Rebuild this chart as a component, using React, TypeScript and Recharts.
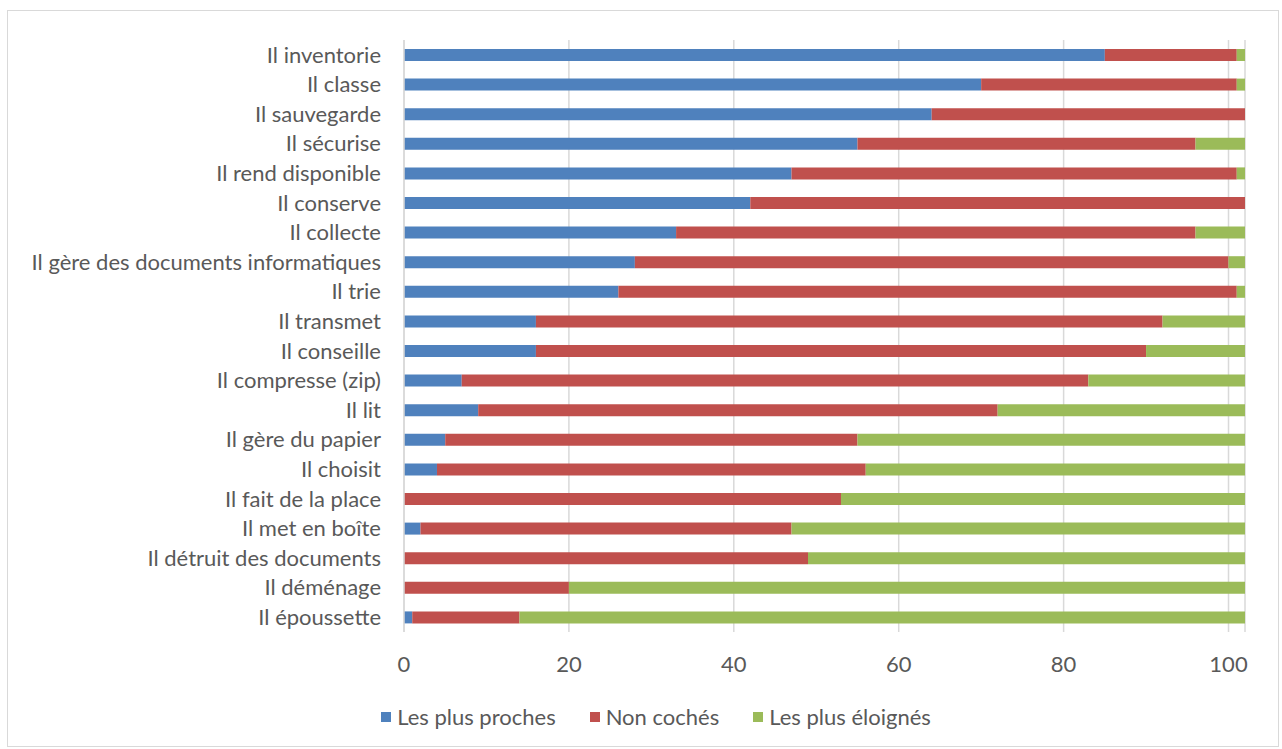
import React from 'react';
import { BarChart, Bar, XAxis, YAxis, CartesianGrid } from 'recharts';

const categories = [
  'Il inventorie',
  'Il classe',
  'Il sauvegarde',
  'Il sécurise',
  'Il rend disponible',
  'Il conserve',
  'Il collecte',
  'Il gère des documents informatiques',
  'Il trie',
  'Il transmet',
  'Il conseille',
  'Il compresse (zip)',
  'Il lit',
  'Il gère du papier',
  'Il choisit',
  'Il fait de la place',
  'Il met en boîte',
  'Il détruit des documents',
  'Il déménage',
  'Il époussette',
];

const plusProches = [85, 70, 64, 55, 47, 42, 33, 28, 26, 16, 16, 7, 9, 5, 4, 0, 2, 0, 0, 1];
const nonCoches = [16, 31, 38, 41, 54, 60, 63, 72, 75, 76, 74, 76, 63, 50, 52, 53, 45, 49, 20, 13];
const plusEloignes = [1, 1, 0, 6, 1, 0, 6, 2, 1, 10, 12, 19, 30, 47, 46, 49, 55, 53, 82, 88];

const xTicks = [0, 20, 40, 60, 80, 100];

const series = [
  { key: 'proches', name: 'Les plus proches', color: '#4F81BD' },
  { key: 'nonCoches', name: 'Non cochés', color: '#C0504D' },
  { key: 'eloignes', name: 'Les plus éloignés', color: '#9BBB59' },
];

const data = categories.map((name, i) => ({
  name,
  proches: plusProches[i],
  nonCoches: nonCoches[i],
  eloignes: plusEloignes[i],
}));

const FONT = 'Lato, "Open Sans", sans-serif';
const TEXT = '#595959';

export default function App() {
  return (
    <div
      style={{
        position: 'absolute',
        left: 7,
        top: 10,
        width: 1270,
        height: 735,
        border: '1px solid #d9d9d9',
        background: '#fff',
        fontFamily: FONT,
      }}
    >
      <BarChart
        width={1270}
        height={735}
        data={data}
        layout="vertical"
        margin={{ top: 29, right: 33, bottom: 74, left: 0 }}
        barSize={12}
      >
        <CartesianGrid horizontal={false} stroke="#d9d9d9" strokeWidth={1.5} />
        <XAxis
          type="number"
          domain={[0, 102]}
          ticks={xTicks}
          allowDataOverflow
          axisLine={false}
          tickLine={false}
          tickSize={0}
          tickMargin={24}
          height={40}
          tick={{ fontSize: 22, fill: TEXT, fontFamily: FONT }}
        />
        <YAxis
          type="category"
          dataKey="name"
          width={396}
          axisLine={{ stroke: '#d9d9d9', strokeWidth: 1.5 }}
          tickLine={false}
          tickSize={0}
          tickMargin={23}
          interval={0}
          tick={{ fontSize: 22, fill: TEXT, fontFamily: FONT }}
        />
        {series.map((s) => (
          <Bar
            key={s.key}
            dataKey={s.key}
            name={s.name}
            stackId="a"
            fill={s.color}
            isAnimationActive={false}
          />
        ))}
      </BarChart>
      <div
        style={{
          position: 'absolute',
          top: 693,
          left: 0,
          width: 1296,
          display: 'flex',
          justifyContent: 'center',
          gap: 34,
          fontSize: 22,
          color: TEXT,
          lineHeight: '26px',
        }}
      >
        {series.map((s) => (
          <div key={s.key} style={{ display: 'flex', alignItems: 'center' }}>
            <span
              style={{
                display: 'inline-block',
                width: 10,
                height: 10,
                background: s.color,
                marginRight: 6,
              }}
            />
            {s.name}
          </div>
        ))}
      </div>
    </div>
  );
}
